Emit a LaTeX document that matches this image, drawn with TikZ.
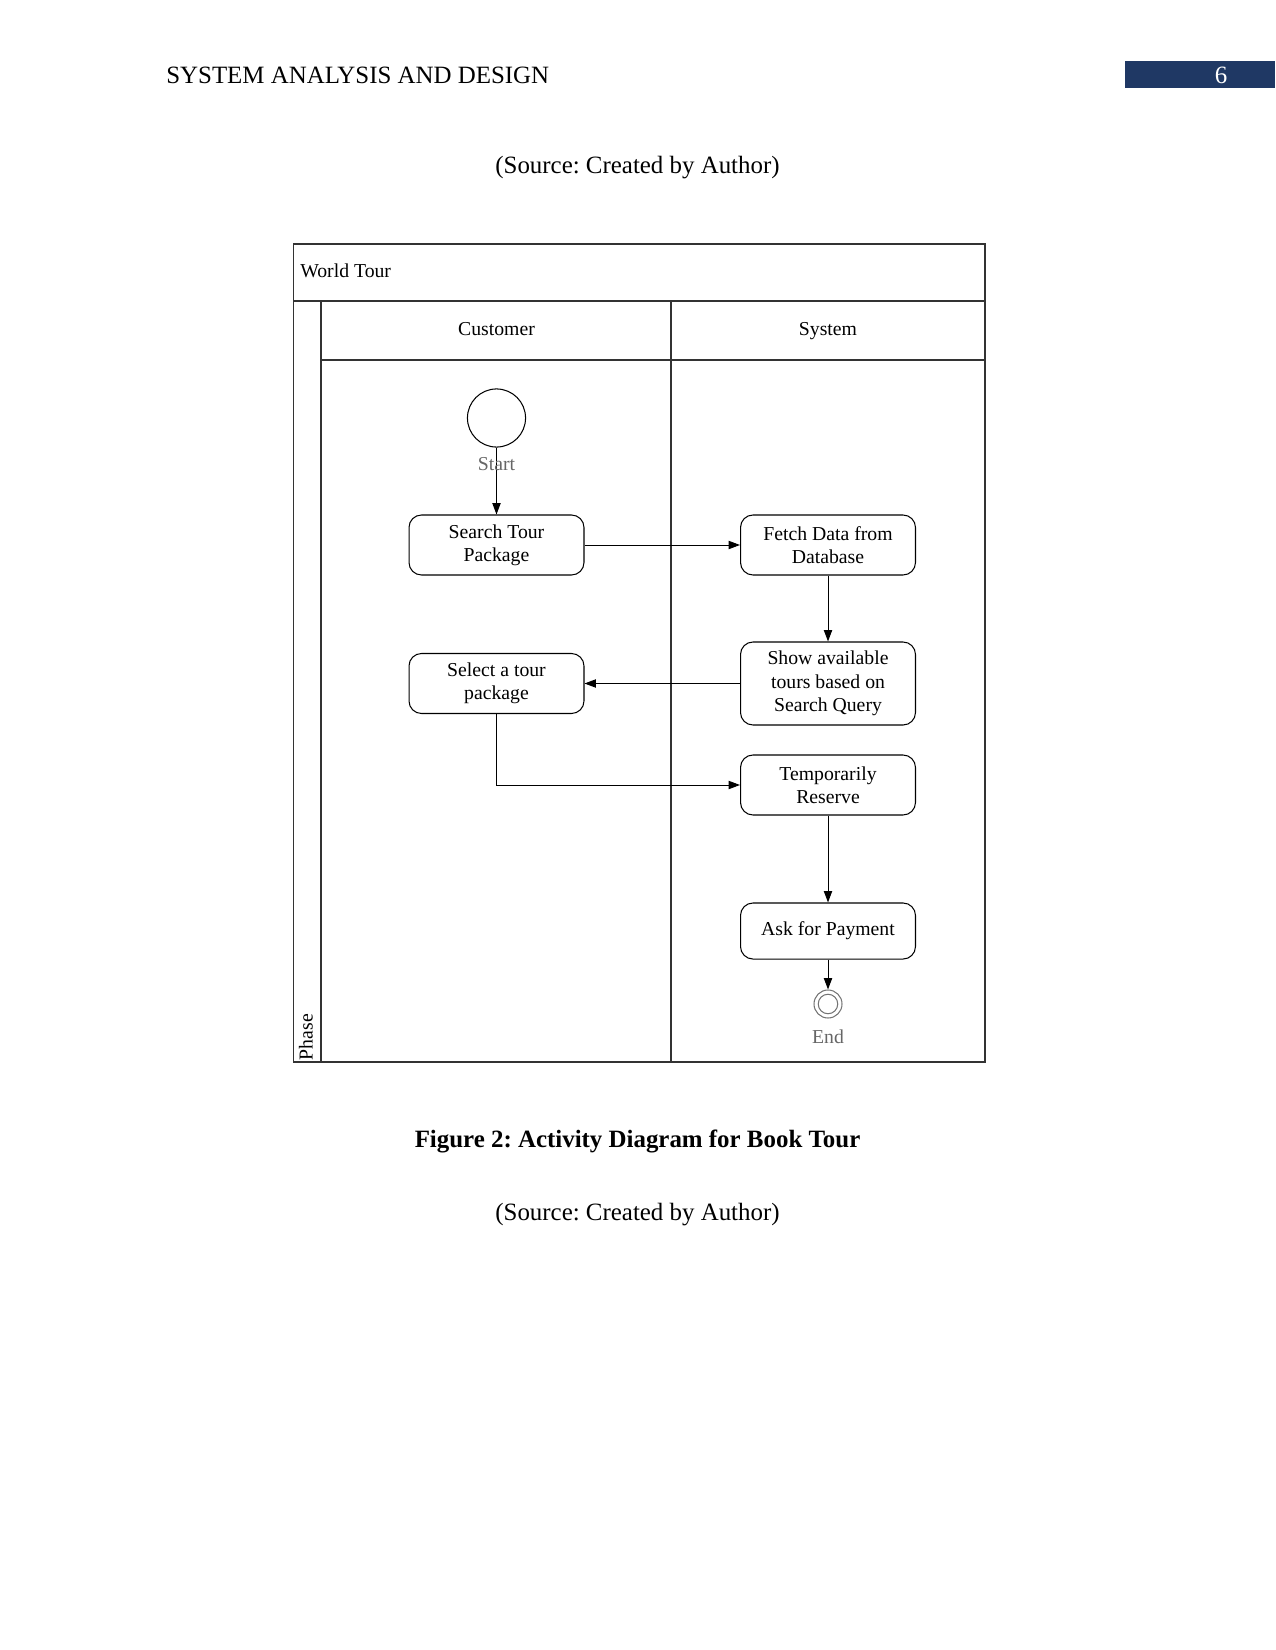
\documentclass[tikz,border=0pt]{standalone}
\usepackage{fontspec}
\setmainfont{Liberation Serif}
\usetikzlibrary{arrows.meta}
\definecolor{headblue}{RGB}{31,56,100}
\frenchspacing

\begin{document}
\begin{tikzpicture}[x=0.4818pt, y=-0.4818pt,
    lane/.style={draw=black!80, line width=0.5pt},
    action/.style={draw, rounded corners=6pt, line width=0.5pt, align=center,
      minimum width=84.3pt, minimum height=28.9pt, inner sep=1pt,
      font=\fontsize{9.5}{11.2}\selectfont},
    flow/.style={-{Triangle[length=5.5pt,width=4pt]}, line width=0.45pt},
    lbl/.style={font=\fontsize{9.5}{11.2}\selectfont}]
  \useasboundingbox (0,0) rectangle (1275,1650);

  % page header
  \node[anchor=west, font=\fontsize{12}{14}\selectfont] (head) at (159,75) {SYSTEM ANALYSIS AND DESIGN};
  \fill[headblue] (1125,61) rectangle (1275,88);
  \node[white, font=\fontsize{12}{14}\selectfont] (page) at (1221,75) {6};
  \node[font=\fontsize{12}{14}\selectfont] (src1) at (637.5,168) {(Source: Created by Author)};

  % swimlanes
  \coordinate (TL) at (293.5,244);
  \coordinate (BR) at (985,1062);
  \draw[lane] (TL) rectangle (BR);
  \draw[lane] (293.5,301) -- (985,301);
  \draw[lane] (321,301) -- (321,1062);
  \draw[lane] (671,301) -- (671,1062);
  \draw[lane] (321,360) -- (985,360);
  \node[lbl, anchor=west] (pool) at (293,271) {World Tour};
  \node[lbl, text height=7pt, text depth=2pt] (cust) at (496.5,330) {Customer};
  \node[lbl, text height=7pt, text depth=2pt] (sys) at (828,330) {System};
  \node[lbl, rotate=90] (phase) at (306,1037) {Phase};

  % activities
  \node[draw, circle, line width=0.5pt, minimum size=28pt, inner sep=0pt] (start) at (496.5,418) {};
  \node[action] (search) at (496.5,545) {Search Tour\\Package};
  \node[action] (fetch) at (828,545) {Fetch Data from\\Database};
  \node[action, minimum height=40pt] (show) at (828,683.5) {Show available\\tours based on\\Search Query};
  \node[action] (select) at (496.5,683.5) {Select a tour\\package};
  \node[action] (reserve) at (828,785) {Temporarily\\Reserve};
  \node[action, minimum height=27pt] (payment) at (828,931) {Ask for Payment};
  \node[draw=black!55, circle, line width=0.5pt, minimum size=13.5pt, inner sep=0pt] (final) at (828,1004) {};
  \draw[black!55, line width=0.5pt] (final.center) circle (4.7pt);

  \draw[flow] (start) -- (search);
  \node[lbl, black!60] (startlbl) at (496.5,464) {Start};
  \node[lbl, black!60] (endlbl) at (828,1037) {End};
  \draw[flow] (search) -- (fetch);
  \draw[flow] (fetch) -- (show);
  \draw[flow] (show) -- (select);
  \draw[flow] (select.south) |- (reserve.west);
  \draw[flow] (reserve) -- (payment);
  \draw[flow] (payment) -- (final);

  % caption
  \node[font=\bfseries\fontsize{12}{14}\selectfont] (cap) at (637.5,1141) {Figure 2: Activity Diagram for Book Tour};
  \node[font=\fontsize{12}{14}\selectfont] (src2) at (637.5,1215) {(Source: Created by Author)};
\end{tikzpicture}
\end{document}
